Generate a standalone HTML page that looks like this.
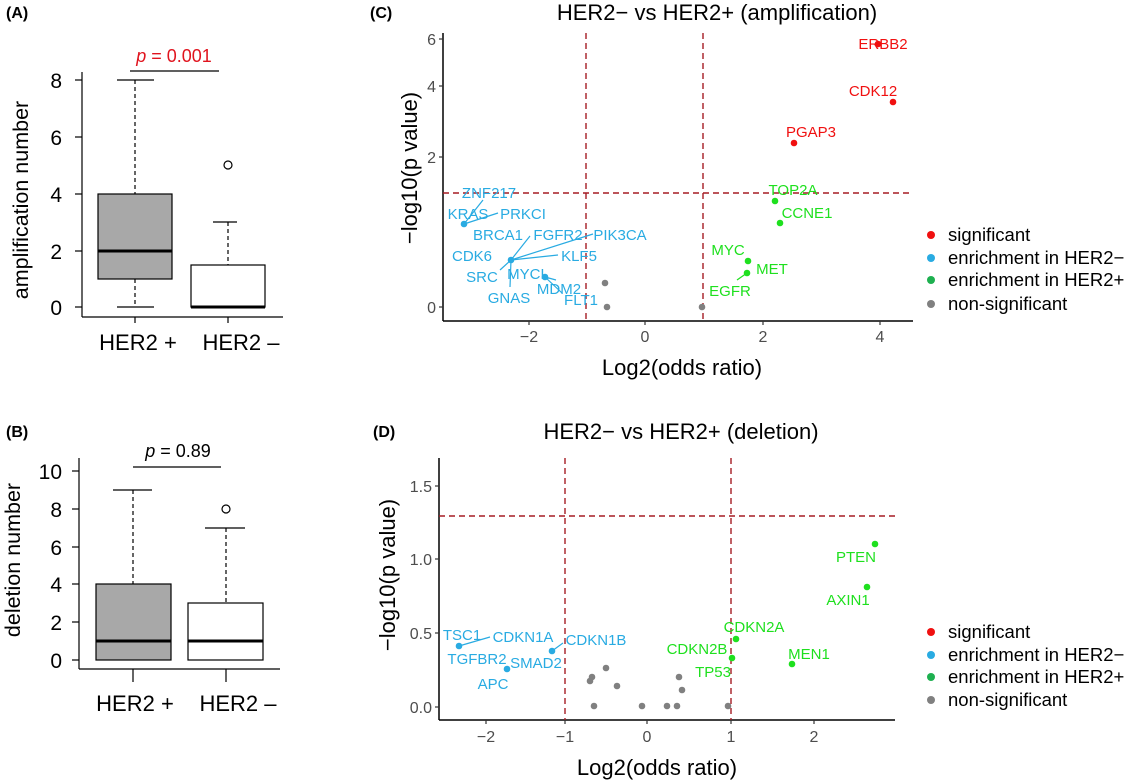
<!DOCTYPE html>
<html><head><meta charset="utf-8"><style>
body{margin:0;background:#fff;}
svg{display:block;font-family:"Liberation Sans",Arial,sans-serif;}
.bl{fill:#29ABE2;font-size:15px;}
.gr{fill:#1EE01E;font-size:15px;}
.rd{fill:#F01010;font-size:15px;}
.tk{fill:#4d4d4d;font-size:16px;}
</style></head><body>
<svg width="1128" height="780" viewBox="0 0 1128 780">
<rect width="1128" height="780" fill="#fff"/>
<!-- Panel A -->
<text x="6" y="18" font-size="16" font-weight="bold">(A)</text>
<g stroke="#000" stroke-width="1.2" fill="none">
<line x1="82" y1="72" x2="82" y2="317"/>
<line x1="82" y1="317" x2="283" y2="317"/>
<line x1="75" y1="80" x2="82" y2="80"/><line x1="75" y1="137" x2="82" y2="137"/><line x1="75" y1="194" x2="82" y2="194"/><line x1="75" y1="251" x2="82" y2="251"/><line x1="75" y1="307" x2="82" y2="307"/>
<line x1="135" y1="317" x2="135" y2="323"/><line x1="228" y1="317" x2="228" y2="323"/>
<line x1="135" y1="80" x2="135" y2="194" stroke-dasharray="4,3"/><line x1="117" y1="80" x2="154" y2="80"/>
<line x1="135" y1="279" x2="135" y2="307" stroke-dasharray="4,3"/><line x1="117" y1="307" x2="154" y2="307"/>
<rect x="98" y="194" width="74" height="85" fill="#a8a8a8"/>
<line x1="98" y1="251" x2="172" y2="251" stroke-width="3"/>
<line x1="228" y1="222" x2="228" y2="265" stroke-dasharray="4,3"/><line x1="213" y1="222" x2="237" y2="222"/>
<rect x="191" y="265" width="74" height="42" fill="#fff"/>
<line x1="191" y1="307" x2="265" y2="307" stroke-width="3"/>
<circle cx="228" cy="165" r="4"/>
<line x1="130" y1="71" x2="219" y2="71"/>
</g>
<g font-size="21" text-anchor="end"><text x="62" y="88">8</text><text x="62" y="145">6</text><text x="62" y="202">4</text><text x="62" y="259">2</text><text x="62" y="315">0</text></g>
<text x="138" y="350" font-size="22" text-anchor="middle">HER2 +</text>
<text x="241" y="350" font-size="22" text-anchor="middle">HER2 –</text>
<text x="174" y="62" font-size="18" fill="#E0141E" text-anchor="middle"><tspan font-style="italic">p</tspan> = 0.001</text>
<text transform="translate(28,200) rotate(-90)" font-size="21.5" text-anchor="middle">amplification number</text>
<!-- Panel B -->
<text x="6" y="437" font-size="16" font-weight="bold">(B)</text>
<g stroke="#000" stroke-width="1.2" fill="none">
<line x1="79" y1="458" x2="79" y2="669"/>
<line x1="79" y1="669" x2="280" y2="669"/>
<line x1="72" y1="471" x2="79" y2="471"/><line x1="72" y1="509" x2="79" y2="509"/><line x1="72" y1="547" x2="79" y2="547"/><line x1="72" y1="584" x2="79" y2="584"/><line x1="72" y1="622" x2="79" y2="622"/><line x1="72" y1="660" x2="79" y2="660"/>
<line x1="133" y1="669" x2="133" y2="682"/><line x1="226" y1="669" x2="226" y2="682"/>
<line x1="133" y1="490" x2="133" y2="584" stroke-dasharray="4,3"/><line x1="113" y1="490" x2="152" y2="490"/>
<rect x="96" y="584" width="75" height="76" fill="#a8a8a8"/>
<line x1="96" y1="641" x2="171" y2="641" stroke-width="3"/>
<line x1="226" y1="528" x2="226" y2="603" stroke-dasharray="4,3"/><line x1="205" y1="528" x2="245" y2="528"/>
<rect x="188" y="603" width="75" height="57" fill="#fff"/>
<line x1="188" y1="641" x2="263" y2="641" stroke-width="3"/>
<circle cx="226" cy="509" r="4"/>
<line x1="133" y1="467" x2="221" y2="467"/>
</g>
<g font-size="21" text-anchor="end"><text x="62" y="479">10</text><text x="62" y="517">8</text><text x="62" y="555">6</text><text x="62" y="592">4</text><text x="62" y="630">2</text><text x="62" y="668">0</text></g>
<text x="135" y="711" font-size="22" text-anchor="middle">HER2 +</text>
<text x="238" y="711" font-size="22" text-anchor="middle">HER2 –</text>
<text x="178" y="457" font-size="18" text-anchor="middle"><tspan font-style="italic">p</tspan> = 0.89</text>
<text transform="translate(20,560) rotate(-90)" font-size="21.5" text-anchor="middle">deletion number</text>
<!-- Panel C -->
<text x="370" y="18" font-size="16" font-weight="bold">(C)</text>
<text x="717" y="20" font-size="22" text-anchor="middle">HER2− vs  HER2+ (amplification)</text>
<g stroke="#000" stroke-width="1.5"><line x1="443" y1="33" x2="443" y2="321"/><line x1="443" y1="321" x2="913" y2="321"/></g>
<g stroke="#333" stroke-width="1.2"><line x1="439" y1="39" x2="443" y2="39"/><line x1="439" y1="86" x2="443" y2="86"/><line x1="439" y1="157" x2="443" y2="157"/><line x1="439" y1="307" x2="443" y2="307"/>
<line x1="529" y1="321" x2="529" y2="325"/><line x1="645" y1="321" x2="645" y2="325"/><line x1="763" y1="321" x2="763" y2="325"/><line x1="880" y1="321" x2="880" y2="325"/></g>
<g class="tk" text-anchor="end"><text x="436" y="45">6</text><text x="436" y="92">4</text><text x="436" y="163">2</text><text x="436" y="313">0</text></g>
<g class="tk" text-anchor="middle"><text x="529" y="342">−2</text><text x="645" y="342">0</text><text x="763" y="342">2</text><text x="880" y="342">4</text></g>
<text x="682" y="375" font-size="22" text-anchor="middle">Log2(odds ratio)</text>
<text transform="translate(417,168) rotate(-90)" font-size="22" text-anchor="middle">−log10(p value)</text>
<g stroke="#A51C24" stroke-width="1.4" stroke-dasharray="6,4" fill="none"><line x1="443" y1="193" x2="913" y2="193"/><line x1="586" y1="33" x2="586" y2="321"/><line x1="703" y1="33" x2="703" y2="321"/></g>
<g stroke="#29ABE2" stroke-width="1.2"><line x1="464" y1="224" x2="483" y2="200"/><line x1="464" y1="224" x2="498" y2="213"/>
<line x1="511" y1="260" x2="530" y2="236"/><line x1="511" y1="260" x2="593" y2="234"/><line x1="511" y1="260" x2="558" y2="255"/><line x1="511" y1="260" x2="500" y2="270"/><line x1="511" y1="260" x2="510" y2="287"/>
<line x1="545" y1="277" x2="556" y2="280"/><line x1="545" y1="277" x2="562" y2="293"/></g>
<line x1="747" y1="273" x2="737" y2="280" stroke="#1EE01E" stroke-width="1.2"/>
<g fill="#29ABE2"><circle cx="464" cy="224" r="3.3"/><circle cx="511" cy="260" r="3.3"/><circle cx="545" cy="277" r="3.3"/></g>
<g fill="#1EE01E"><circle cx="775" cy="201" r="3.3"/><circle cx="780" cy="223" r="3.3"/><circle cx="748" cy="261" r="3.3"/><circle cx="747" cy="273" r="3.3"/></g>
<g fill="#F01010"><circle cx="878" cy="44" r="3.3"/><circle cx="893" cy="102" r="3.3"/><circle cx="794" cy="143" r="3.3"/></g>
<g fill="#808080"><circle cx="605" cy="283" r="3.3"/><circle cx="607" cy="307" r="3.3"/><circle cx="702" cy="307" r="3.3"/></g>
<g class="rd" text-anchor="middle"><text x="883" y="49">ERBB2</text><text x="873" y="96">CDK12</text><text x="811" y="137">PGAP3</text></g>
<g class="gr" text-anchor="middle"><text x="793" y="195">TOP2A</text><text x="807" y="218">CCNE1</text><text x="728" y="255">MYC</text><text x="772" y="274">MET</text><text x="730" y="296">EGFR</text></g>
<g class="bl" text-anchor="middle"><text x="489" y="198">ZNF217</text><text x="468" y="219">KRAS</text><text x="523" y="219">PRKCI</text><text x="498" y="240">BRCA1</text><text x="558" y="240">FGFR2</text><text x="620" y="240">PIK3CA</text><text x="472" y="261">CDK6</text><text x="579" y="261">KLF5</text><text x="482" y="282">SRC</text><text x="528" y="279">MYCL</text><text x="559" y="294">MDM2</text><text x="509" y="303">GNAS</text><text x="581" y="305">FLT1</text></g>
<g font-size="18.5"><circle cx="931" cy="235" r="4" fill="#F01010"/><text x="948" y="241">significant</text>
<circle cx="931" cy="258" r="4" fill="#29ABE2"/><text x="948" y="264">enrichment in HER2−</text>
<circle cx="931" cy="280" r="4" fill="#1EB050"/><text x="948" y="286">enrichment in HER2+</text>
<circle cx="931" cy="304" r="4" fill="#808080"/><text x="948" y="310">non-significant</text></g>
<!-- Panel D -->
<text x="373" y="437" font-size="16" font-weight="bold">(D)</text>
<text x="681" y="439" font-size="22" text-anchor="middle">HER2− vs  HER2+ (deletion)</text>
<g stroke="#000" stroke-width="1.5"><line x1="439" y1="458" x2="439" y2="720"/><line x1="439" y1="720" x2="895" y2="720"/></g>
<g stroke="#333" stroke-width="1.2"><line x1="435" y1="486" x2="439" y2="486"/><line x1="435" y1="559" x2="439" y2="559"/><line x1="435" y1="633" x2="439" y2="633"/><line x1="435" y1="707" x2="439" y2="707"/>
<line x1="486" y1="720" x2="486" y2="724"/><line x1="565" y1="720" x2="565" y2="724"/><line x1="647" y1="720" x2="647" y2="724"/><line x1="731" y1="720" x2="731" y2="724"/><line x1="814" y1="720" x2="814" y2="724"/></g>
<g class="tk" text-anchor="end"><text x="432" y="492">1.5</text><text x="432" y="565">1.0</text><text x="432" y="639">0.5</text><text x="432" y="713">0.0</text></g>
<g class="tk" text-anchor="middle"><text x="486" y="742">−2</text><text x="565" y="742">−1</text><text x="647" y="742">0</text><text x="731" y="742">1</text><text x="814" y="742">2</text></g>
<text x="657" y="775" font-size="22" text-anchor="middle">Log2(odds ratio)</text>
<text transform="translate(395,575) rotate(-90)" font-size="22" text-anchor="middle">−log10(p value)</text>
<g stroke="#A51C24" stroke-width="1.4" stroke-dasharray="6,4" fill="none"><line x1="439" y1="516" x2="895" y2="516"/><line x1="565" y1="458" x2="565" y2="720"/><line x1="731" y1="458" x2="731" y2="720"/></g>
<g stroke="#29ABE2" stroke-width="1.2"><line x1="459" y1="646" x2="490" y2="637"/><line x1="552" y1="651" x2="563" y2="643"/></g>
<g fill="#29ABE2"><circle cx="459" cy="646" r="3.3"/><circle cx="552" cy="651" r="3.3"/><circle cx="507" cy="669" r="3.3"/></g>
<g fill="#1EE01E"><circle cx="875" cy="544" r="3.3"/><circle cx="867" cy="587" r="3.3"/><circle cx="736" cy="639" r="3.3"/><circle cx="732" cy="658" r="3.3"/><circle cx="792" cy="664" r="3.3"/></g>
<g fill="#808080"><circle cx="592" cy="677" r="3.3"/><circle cx="590" cy="681" r="3.3"/><circle cx="606" cy="668" r="3.3"/><circle cx="617" cy="686" r="3.3"/><circle cx="679" cy="677" r="3.3"/><circle cx="682" cy="690" r="3.3"/><circle cx="594" cy="706" r="3.3"/><circle cx="642" cy="706" r="3.3"/><circle cx="667" cy="706" r="3.3"/><circle cx="677" cy="706" r="3.3"/><circle cx="728" cy="706" r="3.3"/></g>
<g class="gr" text-anchor="middle"><text x="856" y="562">PTEN</text><text x="848" y="605">AXIN1</text><text x="754" y="632">CDKN2A</text><text x="697" y="654">CDKN2B</text><text x="713" y="677">TP53</text><text x="809" y="659">MEN1</text></g>
<g class="bl" text-anchor="middle"><text x="462" y="640">TSC1</text><text x="523" y="642">CDKN1A</text><text x="596" y="645">CDKN1B</text><text x="477" y="664">TGFBR2</text><text x="536" y="668">SMAD2</text><text x="493" y="689">APC</text></g>
<g font-size="18.5"><circle cx="931" cy="632" r="4" fill="#F01010"/><text x="948" y="638">significant</text>
<circle cx="931" cy="655" r="4" fill="#29ABE2"/><text x="948" y="661">enrichment in HER2−</text>
<circle cx="931" cy="677" r="4" fill="#1EB050"/><text x="948" y="683">enrichment in HER2+</text>
<circle cx="931" cy="700" r="4" fill="#808080"/><text x="948" y="706">non-significant</text></g>
</svg>
</body></html>
